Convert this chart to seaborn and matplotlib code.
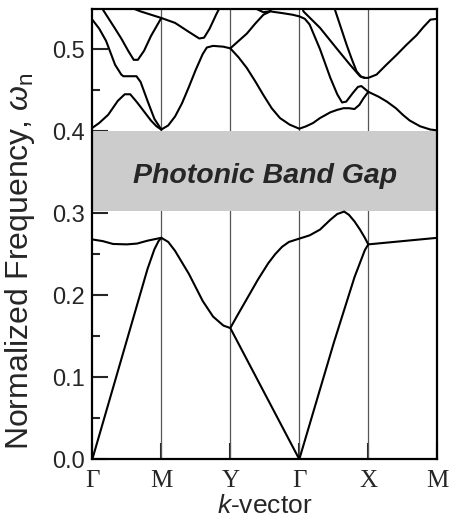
import matplotlib
matplotlib.use('Agg')
import matplotlib.pyplot as plt
from matplotlib.ticker import MultipleLocator
import seaborn as sns

# --------------------------------------------------
# Dados (k ao longo do caminho, frequência normalizada)
# --------------------------------------------------
k_points = [0, 1, 2, 3, 4, 5]
k_labels = ['Γ', 'M', 'Y', 'Γ', 'X', 'M']
y_ticks = [0.0, 0.1, 0.2, 0.3, 0.4, 0.5]

gap_bottom = 0.303
gap_top = 0.400
gap_label = 'Photonic Band Gap'

# banda 1: Γ-M-Y-Γ-X-M
band1_k = [0, 0.3, 0.6, 0.8, 0.9, 0.96, 1.0, 1.1, 1.2, 1.4, 1.6, 1.75, 1.9, 2.0,
           3.0, 3.5, 3.8, 3.95, 4.0, 4.5, 5.0]
band1_w = [0, 0.087, 0.174, 0.232, 0.256, 0.266, 0.27, 0.265, 0.254, 0.226, 0.193, 0.174, 0.163, 0.16,
           0.0, 0.142, 0.222, 0.255, 0.262, 0.266, 0.27]

# banda 2: Γ-M
band2a_k = [0, 0.15, 0.3, 0.5, 0.65, 0.8, 1.0]
band2a_w = [0.268, 0.266, 0.2625, 0.262, 0.263, 0.2665, 0.27]

# banda 2: Y-Γ-X
band2b_k = [2.0, 2.1, 2.25, 2.4, 2.55, 2.65, 2.75, 2.85, 3.0, 3.15, 3.3, 3.45, 3.55, 3.65, 3.72, 3.8, 3.88, 3.95, 4.0]
band2b_w = [0.16, 0.175, 0.197, 0.219, 0.239, 0.25, 0.259, 0.265, 0.269, 0.273, 0.28, 0.292, 0.299, 0.302, 0.298, 0.29, 0.28, 0.27, 0.262]

# bandas superiores
up1_k = [0, 0.1, 0.23, 0.37, 0.47, 0.55, 0.65, 0.75, 0.85, 0.93, 1.0]
up1_w = [0.404, 0.41, 0.42, 0.437, 0.445, 0.445, 0.435, 0.424, 0.413, 0.406, 0.402]

up2_k = [0, 0.1, 0.2, 0.33, 0.42, 0.45, 0.64, 0.7, 0.8, 0.9, 1.0]
up2_w = [0.536, 0.525, 0.51, 0.481, 0.469, 0.467, 0.467, 0.46, 0.437, 0.415, 0.402]

up3_k = [0.05, 0.155, 0.3, 0.42, 0.52, 0.6, 0.66, 0.75, 0.85, 1.0]
up3_w = [0.562, 0.548, 0.529, 0.513, 0.498, 0.487, 0.487, 0.498, 0.516, 0.538]

up4_k = [0.55, 0.7, 0.85, 1.0, 1.2, 1.4, 1.55, 1.62, 1.7, 1.8, 1.88]
up4_w = [0.551, 0.546, 0.542, 0.538, 0.532, 0.521, 0.513, 0.514, 0.525, 0.543, 0.556]

up5_k = [1.0, 1.1, 1.2, 1.3, 1.4, 1.5, 1.6, 1.66, 1.75, 1.9, 2.0,
         2.12, 2.24, 2.36, 2.48, 2.58, 2.75, 2.9, 3.0,
         3.08, 3.15, 3.3, 3.45, 3.55, 3.62, 3.68, 3.78, 3.85, 3.9, 4.0,
         4.15, 4.27, 4.4, 4.5, 4.6, 4.75, 4.9, 5.0]
up5_w = [0.402, 0.407, 0.418, 0.434, 0.454, 0.475, 0.494, 0.502, 0.504, 0.503, 0.501,
         0.51, 0.519, 0.531, 0.542, 0.546, 0.544, 0.542, 0.540,
         0.537, 0.53, 0.50, 0.465, 0.445, 0.435, 0.436, 0.447, 0.454, 0.455, 0.448,
         0.442, 0.436, 0.428, 0.42, 0.413, 0.406, 0.402, 0.401]

up6_k = [2.0, 2.12, 2.24, 2.36, 2.48, 2.6, 2.72, 2.86, 3.0,
         3.1, 3.2, 3.3, 3.45, 3.55, 3.64, 3.72, 3.8, 3.87, 3.93, 4.0]
up6_w = [0.501, 0.49, 0.477, 0.461, 0.444, 0.428, 0.416, 0.408, 0.403,
         0.406, 0.41, 0.416, 0.423, 0.426, 0.428, 0.428, 0.427, 0.432, 0.44, 0.448]

up7_k = [3.03, 3.06, 3.3, 3.54, 3.735, 3.88, 3.95, 4.0,
         4.12, 4.25, 4.41, 4.55, 4.7, 4.8, 4.9, 5.0]
up7_w = [0.556, 0.546, 0.526, 0.501, 0.481, 0.467, 0.465, 0.465,
         0.469, 0.48, 0.493, 0.505, 0.517, 0.527, 0.536, 0.537]

up8_k = [3.49, 3.517, 3.6, 3.687, 3.76, 3.83, 3.9, 3.95]
up8_w = [0.556, 0.548, 0.527, 0.505, 0.488, 0.473, 0.466, 0.465]

up9_k = [2.28, 2.38, 2.48, 2.56, 2.65]
up9_w = [0.556, 0.549, 0.545, 0.546, 0.552]

ramos = [(band1_k, band1_w), (band2a_k, band2a_w), (band2b_k, band2b_w),
         (up1_k, up1_w), (up2_k, up2_w), (up3_k, up3_w), (up4_k, up4_w),
         (up5_k, up5_w), (up6_k, up6_w), (up7_k, up7_w), (up8_k, up8_w),
         (up9_k, up9_w)]

# --------------------------------------------------
# Estilo
# --------------------------------------------------
sns.set_style('ticks')
plt.rcParams['font.family'] = ['Liberation Sans', 'DejaVu Sans']
plt.rcParams['mathtext.fontset'] = 'custom'
plt.rcParams['mathtext.it'] = 'Liberation Sans:italic'
plt.rcParams['mathtext.rm'] = 'Liberation Sans'

fig = plt.figure(figsize=(4.59, 5.24), dpi=100)
ax = fig.add_axes([0.2011, 0.1235, 0.7516, 0.8594])

# linhas verticais nos pontos de simetria
for k in k_points[1:-1]:
    ax.axvline(k, color='#555555', lw=0.9, zorder=1)

# faixa do gap
ax.axhspan(gap_bottom, gap_top, color='#cccccc', lw=0, zorder=2)

for ks, ws in ramos:
    sns.lineplot(x=ks, y=ws, ax=ax, sort=False, estimator=None,
                 color='black', lw=1.5, zorder=3)

ax.text(2.5, 0.3366, gap_label, ha='center', va='baseline',
        fontsize=20.5, fontweight='bold', fontstyle='italic', zorder=4)

ax.set_xlim(0, 5)
ax.set_ylim(0, 0.549)

ax.set_xticks(k_points)
ax.set_xticklabels(k_labels, fontsize=18, fontfamily='Liberation Serif')
ax.set_yticks(y_ticks)
ax.set_yticklabels([f'{v:.1f}' for v in y_ticks], fontsize=17)
ax.yaxis.set_minor_locator(MultipleLocator(0.05))

ax.tick_params(axis='both', which='major', direction='in', length=11.5, width=1.5, pad=5)
ax.tick_params(axis='y', which='minor', direction='in', length=5.8, width=1.5)
ax.tick_params(axis='x', which='major', pad=8)

for s in ax.spines.values():
    s.set_linewidth(1.6)
    s.set_color('black')

ax.set_xlabel('$k$-vector', fontsize=19, labelpad=1)
ax.set_ylabel('Normalized Frequency, $\\omega_{\\rm n}$', fontsize=23)
ax.yaxis.set_label_coords(-0.16, 0.44)

fig.savefig('out.png', dpi=100)
